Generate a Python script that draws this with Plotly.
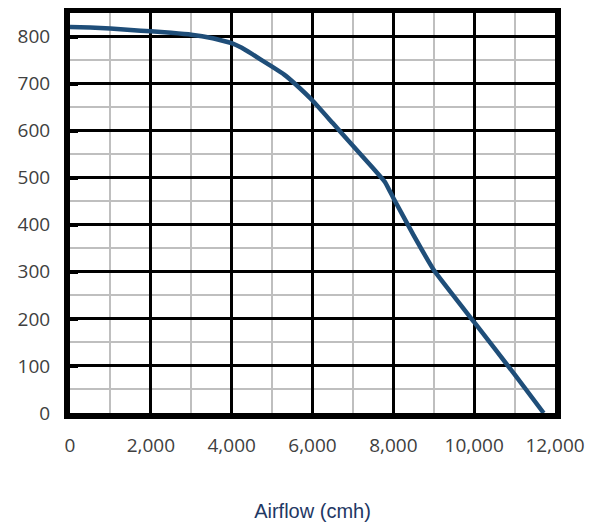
import plotly.graph_objects as go

airflow = [0, 500, 1000, 1500, 2000, 2500, 3000, 3500, 4000, 4250, 4500, 5000, 5300, 5600, 6000, 6500, 7000, 7500, 7800, 8000, 8500, 9000, 10000, 11000, 11720]
pressure = [820, 819, 817, 814, 811, 808, 804, 797, 786, 776, 763, 736, 719, 697, 664, 616, 568, 520, 490, 457, 378, 304, 193, 82, 0]

x_ticks = [0, 2000, 4000, 6000, 8000, 10000, 12000]
x_tick_labels = ["0", "2,000", "4,000", "6,000", "8,000", "10,000", "12,000"]
y_ticks = [0, 100, 200, 300, 400, 500, 600, 700, 800]
x_title = "Airflow (cmh)"

fig = go.Figure()
fig.add_trace(go.Scatter(
    x=airflow, y=pressure, mode="lines",
    line=dict(color="#1F4E79", width=4.5, shape="spline", smoothing=0.3),
    hoverinfo="skip", showlegend=False,
))

tick_font = dict(family="Open Sans", size=19, color="#404040")

fig.update_layout(
    width=597, height=525,
    margin=dict(l=62, r=50, t=5, b=120),
    paper_bgcolor="white", plot_bgcolor="white",
    xaxis=dict(
        range=[0, 12000], tickvals=x_ticks, ticktext=x_tick_labels,
        showgrid=True, gridcolor="black", gridwidth=2.5,
        minor=dict(dtick=1000, showgrid=True, gridcolor="#BFBFBF", gridwidth=2),
        showline=True, linecolor="black", linewidth=6, mirror=True,
        zeroline=False, ticks="", tickfont=tick_font, ticklabelstandoff=10,
        automargin=False,
        title=dict(text=x_title, font=dict(family="Liberation Sans", size=20, color="#1F3864"), standoff=49),
    ),
    yaxis=dict(
        range=[0, 850], tickvals=y_ticks,
        showgrid=True, gridcolor="black", gridwidth=2.5,
        minor=dict(dtick=50, showgrid=True, gridcolor="#BFBFBF", gridwidth=2),
        showline=True, linecolor="black", linewidth=6, mirror=True,
        zeroline=False, ticks="inside", ticklen=8, tickwidth=3.5, tickcolor="black",
        tickfont=tick_font, ticklabelstandoff=10, automargin=False,
    ),
)

fig.write_html("out.html")
